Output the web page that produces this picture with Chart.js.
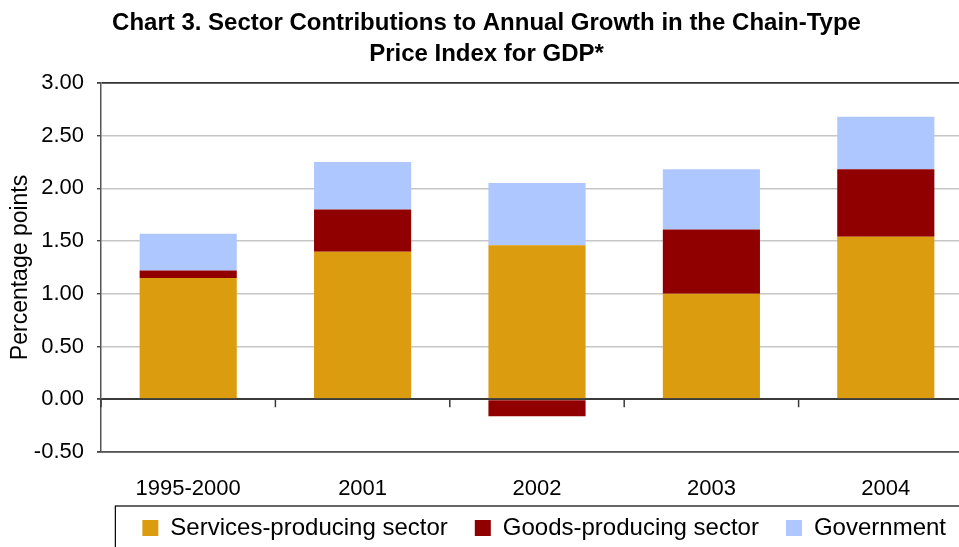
<!DOCTYPE html>
<html lang="en">
  <head>
    <meta charset="UTF-8" />
    <title>Chart 3. Sector Contributions</title>
    <style>
      html,
      body {
        margin: 0;
        padding: 0;
        background: #fff;
        overflow: hidden;
      }
      .chart-wrap {
        position: relative;
        width: 975px;
        height: 547px;
      }
    </style>
  </head>
  <body>
    <div class="chart-wrap">
      <canvas id="sectorChart"></canvas>
    </div>
    <script src="https://cdn.jsdelivr.net/npm/chart.js"></script>
    <script>
      // Data
      const periods = ["1995-2000", "2001", "2002", "2003", "2004"]
      const servicesSector = [1.15, 1.4, 1.46, 1.0, 1.54]
      const goodsSector = [0.07, 0.4, -0.16, 0.61, 0.64]
      const government = [0.35, 0.45, 0.59, 0.57, 0.5]
      const yTicks = [-0.5, 0, 0.5, 1.0, 1.5, 2.0, 2.5, 3.0]

      const FONT = 'Arial, "Liberation Sans", sans-serif'

      // short category ticks on the zero line, zero line over the bars, legend frame
      const extras = {
        id: "extras",
        afterDatasetsDraw(chart) {
          const ctx = chart.ctx
          const x = chart.scales.x
          const y = chart.scales.y
          const y0 = y.getPixelForValue(0)
          const half = (x.getPixelForValue(1) - x.getPixelForValue(0)) / 2
          ctx.save()
          ctx.strokeStyle = "#3a3a3a"
          ctx.lineWidth = 1.5
          ctx.beginPath()
          ctx.moveTo(chart.chartArea.left, y0)
          ctx.lineTo(chart.chartArea.right, y0)
          for (let i = 0; i <= periods.length; i++) {
            const px = x.getPixelForValue(i) - half
            ctx.moveTo(px, y0)
            ctx.lineTo(px, y0 + 8)
          }
          ctx.stroke()
          ctx.restore()
        },
        afterDraw(chart) {
          const lg = chart.legend
          if (!lg || !lg.legendHitBoxes.length) return
          const boxes = lg.legendHitBoxes
          const first = boxes[0]
          const last = boxes[boxes.length - 1]
          const ctx = chart.ctx
          ctx.save()
          ctx.strokeStyle = "#000"
          ctx.lineWidth = 1.2
          ctx.strokeRect(
            first.left - 27,
            first.top - 10,
            last.left + last.width - first.left + 60,
            first.height + 60
          )
          ctx.restore()
        },
      }

      new Chart(document.getElementById("sectorChart"), {
        type: "bar",
        data: {
          labels: periods,
          datasets: [
            {
              label: "Services-producing sector",
              data: servicesSector,
              backgroundColor: "#DB9C10",
            },
            {
              label: "Goods-producing sector",
              data: goodsSector,
              backgroundColor: "#900000",
            },
            {
              label: "Government",
              data: government,
              backgroundColor: "#AEC8FF",
            },
          ],
        },
        options: {
          responsive: true,
          maintainAspectRatio: false,
          animation: false,
          layout: { padding: { left: 0, right: 2, top: 0, bottom: -3 } },
          datasets: {
            bar: { categoryPercentage: 1.0, barPercentage: 0.557 },
          },
          plugins: {
            title: {
              display: true,
              text: [
                "Chart 3. Sector Contributions to Annual Growth in the Chain-Type",
                "Price Index for GDP*",
              ],
              color: "#000",
              font: { family: FONT, size: 24, weight: "bold", lineHeight: 1.3 },
              padding: { top: 8, bottom: 12.5 },
            },
            legend: {
              position: "bottom",
              align: "end",
              labels: {
                color: "#000",
                font: { family: FONT, size: 24 },
                boxWidth: 16,
                boxHeight: 16,
                padding: 27,
              },
            },
            tooltip: { enabled: false },
          },
          scales: {
            x: {
              stacked: true,
              grid: { display: false, drawTicks: false },
              border: { display: true, color: "#555", width: 1.5 },
              ticks: {
                color: "#000",
                font: { family: FONT, size: 22 },
                // mirrored labels are not clipped to the axis box, so they can sit over the legend margin
                mirror: true,
                padding: -50,
                autoSkip: false,
              },
              afterFit(scale) {
                scale.height = 37
              },
            },
            y: {
              stacked: true,
              min: -0.5,
              max: 3.0,
              afterBuildTicks(scale) {
                scale.ticks = yTicks.map((v) => ({ value: v }))
              },
              grid: {
                color(c) {
                  const v = c.tick ? c.tick.value : null
                  if (v === 3.0) return "#333"
                  if (v === -0.5) return "#666"
                  if (v === 0) return "#3a3a3a"
                  return "#c6c6c6"
                },
                lineWidth(c) {
                  const v = c.tick ? c.tick.value : null
                  if (v === 3.0 || v === -0.5 || v === 0) return 1.8
                  return 1.4
                },
                tickLength: 4,
                tickColor: "#444",
              },
              border: { display: true, color: "#555", width: 1.5 },
              ticks: {
                color: "#000",
                font: { family: FONT, size: 22 },
                padding: 13,
                callback: (v) => Number(v).toFixed(2),
              },
              title: {
                display: true,
                text: "Percentage points",
                color: "#000",
                font: { family: FONT, size: 23 },
                padding: { top: 7, bottom: 0 },
              },
              afterFit(scale) {
                scale.width = 101
              },
            },
          },
        },
        plugins: [extras],
      })
    </script>
  </body>
</html>
